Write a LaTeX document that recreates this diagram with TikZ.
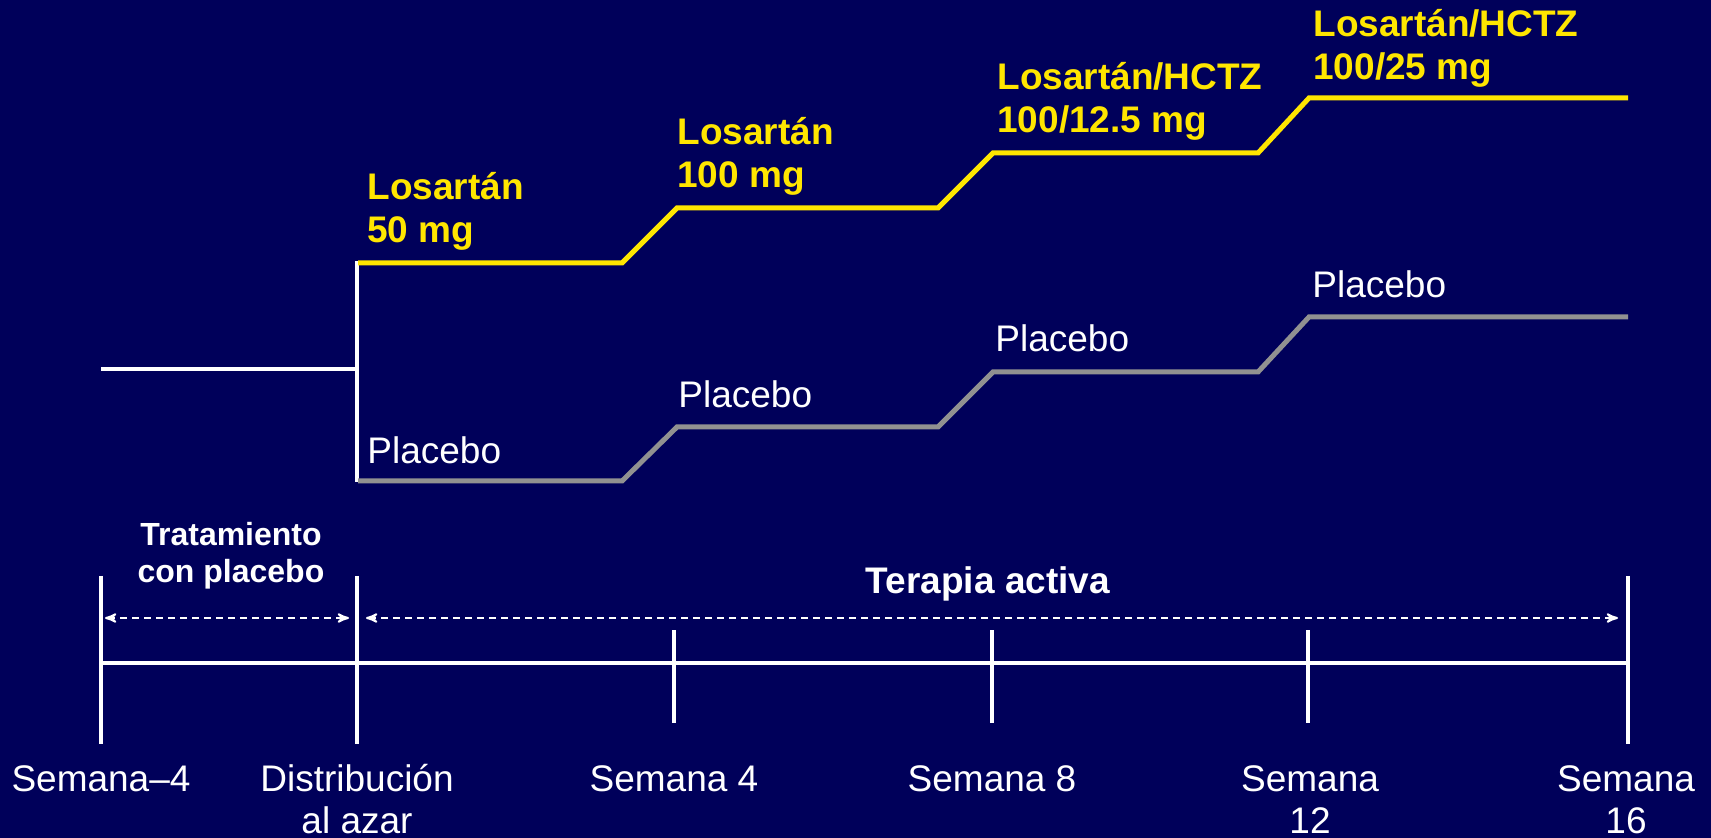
\documentclass[tikz,border=0pt]{standalone}
\usepackage{fontspec}
\setmainfont{Liberation Sans}
\usetikzlibrary{positioning,arrows}

\definecolor{navy}{RGB}{0,0,90}
\definecolor{dose}{RGB}{255,230,0}
\definecolor{pbo}{RGB}{145,145,145}

\begin{document}
\begin{tikzpicture}[x=0.5pt,y=-0.5pt,>=stealth']
    \tikzstyle{label}=[inner sep=0pt,anchor=base west,align=left,font=\fontsize{18.5}{21.5}\selectfont]
    \tikzstyle{dose label}=[label,text=dose,font=\fontsize{18.5}{21.5}\selectfont\bfseries]
    \tikzstyle{placebo label}=[label,text=white]
    \tikzstyle{week}=[inner sep=0pt,anchor=base,align=center,text=white,font=\fontsize{18.5}{21}\selectfont]
    \tikzstyle{period}=[inner sep=0pt,anchor=base,align=center,text=white,font=\fontsize{18.5}{21}\selectfont\bfseries]
    \tikzstyle{white line}=[draw=white,line width=1.75pt]
    \tikzstyle{dose line}=[draw=dose,line width=2.5pt]
    \tikzstyle{placebo line}=[draw=pbo,line width=2.5pt]
    \tikzstyle{span} = [<->,draw=white,line width=1pt,dash pattern=on 3.5pt off 2.5pt]

    \useasboundingbox (0,0) rectangle (1711,838);
    \fill[navy] (0,0) rectangle (1711,838);

    % run-in and randomisation
    \coordinate (run) at (101,369);
    \coordinate (rand) at (357,369);
    \coordinate (randT) at (357,261);
    \coordinate (randB) at (357,482);
    \draw[white line] (run) -- (rand);
    \draw[white line] (randT) -- (randB);

    % active arm
    \coordinate (D0) at (358,263);
    \coordinate (D1a) at (622,263);
    \coordinate (D1b) at (677,208);
    \coordinate (D2a) at (938,208);
    \coordinate (D2b) at (993,153);
    \coordinate (D3a) at (1258,153);
    \coordinate (D3b) at (1309,98);
    \coordinate (D4) at (1628,98);
    \draw[dose line] (D0) -- (D1a) -- (D1b) -- (D2a) -- (D2b) -- (D3a) -- (D3b) -- (D4);

    % placebo arm
    \coordinate (P0) at (358,481);
    \coordinate (P1a) at (622,481);
    \coordinate (P1b) at (677,427);
    \coordinate (P2a) at (938,427);
    \coordinate (P2b) at (993,372);
    \coordinate (P3a) at (1258,372);
    \coordinate (P3b) at (1309,317);
    \coordinate (P4) at (1628,317);
    \draw[placebo line] (P0) -- (P1a) -- (P1b) -- (P2a) -- (P2b) -- (P3a) -- (P3b) -- (P4);

    % base of a two-line node = base of its last line
    \node[dose label] (los50) at (367,243) {Losartán\\50 mg};
    \node[dose label] (los100) at (677,188) {Losartán\\100 mg};
    \node[dose label] (hctz12) at (997,133) {Losartán/HCTZ\\100/12.5 mg};
    \node[dose label] (hctz25) at (1313,80) {Losartán/HCTZ\\100/25 mg};

    \node[placebo label] (pbo1) at (367,464) {Placebo};
    \node[placebo label] (pbo2) at (678,408) {Placebo};
    \node[placebo label] (pbo3) at (995,352) {Placebo};
    \node[placebo label] (pbo4) at (1312,298) {Placebo};

    % time axis
    \coordinate (wkA) at (101,663);
    \coordinate (wkB) at (357,663);
    \coordinate (wkC) at (674,663);
    \coordinate (wkD) at (992,663);
    \coordinate (wkE) at (1308,663);
    \coordinate (wkF) at (1628,663);
    \draw[white line] (wkA) -- (wkF);
    \draw[white line] (101,576) -- (101,744);
    \draw[white line] (357,576) -- (357,744);
    \draw[white line] (1628,576) -- (1628,744);
    \draw[white line] (674,630) -- (674,723);
    \draw[white line] (992,630) -- (992,723);
    \draw[white line] (1308,630) -- (1308,723);

    \coordinate (runL) at (105,618);
    \coordinate (runR) at (349,618);
    \coordinate (actL) at (366,618);
    \coordinate (actR) at (1618,618);
    \draw[span] (runL) -- (runR);
    \draw[span] (actL) -- (actR);

    \node[period,font=\fontsize{16}{18.5}\selectfont\bfseries] (runin) at (231,582) {Tratamiento\\con placebo};
    \node[period] (active) at (988,593) {Terapia activa};

    \node[week] (w-4) at (101,791) {Semana–4};
    \node[week] (w0) at (357,833) {Distribución\\al azar};
    \node[week] (w4) at (674,791) {Semana 4};
    \node[week] (w8) at (992,791) {Semana 8};
    \node[week] (w12) at (1310,833) {Semana\\12};
    \node[week] (w16) at (1626,833) {Semana\\16};
\end{tikzpicture}
\end{document}
